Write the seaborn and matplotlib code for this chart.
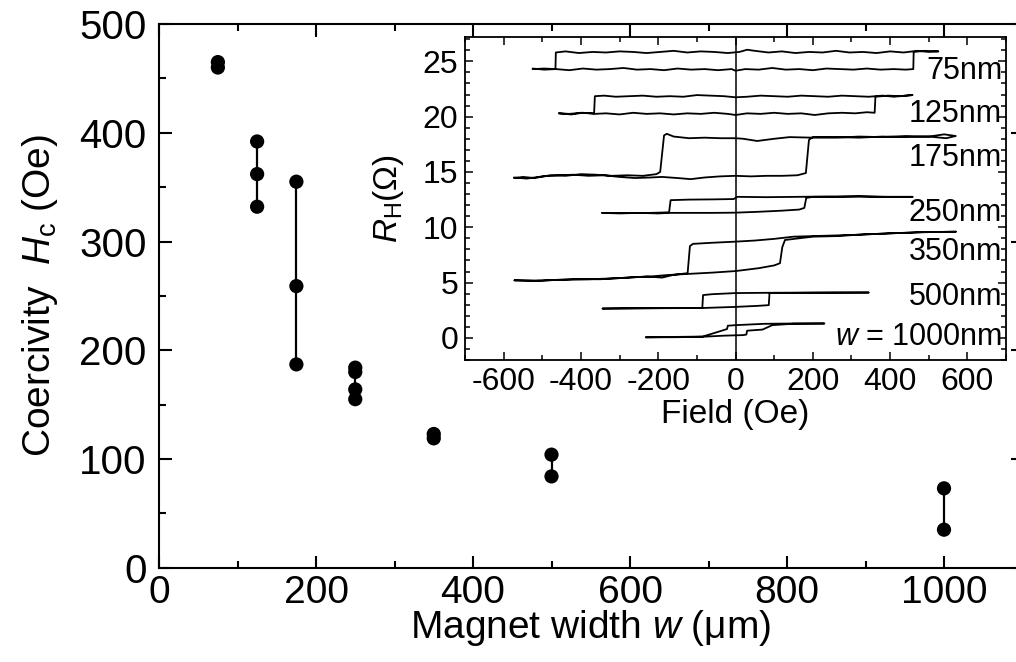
import matplotlib
matplotlib.use('Agg')
import matplotlib.pyplot as plt
import pandas as pd
import seaborn as sns
from matplotlib.ticker import MultipleLocator

# main panel: coercivity for each magnet width (several devices per width)
widths = [75, 75, 125, 125, 125, 175, 175, 175, 250, 250, 250, 250, 350, 350, 500, 500, 1000, 1000]
coercivity = [465, 460, 392, 362, 332, 355, 259, 187, 184, 180, 164, 155, 123, 119, 104, 84, 73, 35]

# inset: Hall resistance loops, (field in Oe, R_H in ohm), swept up then back down
loop_75 = [(-525, 24.35), (-495, 24.25), (-465, 24.30), (-430, 24.20), (-395, 24.35), (-360, 24.25),
           (-325, 24.30), (-290, 24.40), (-255, 24.25), (-220, 24.30), (-185, 24.20), (-150, 24.35),
           (-115, 24.25), (-80, 24.30), (-45, 24.20), (-10, 24.30), (0, 24.15), (25, 24.30), (60, 24.25),
           (95, 24.40), (130, 24.25), (165, 24.30), (200, 24.20), (235, 24.35), (270, 24.30), (305, 24.25),
           (340, 24.35), (375, 24.25), (410, 24.30), (440, 24.25), (460, 24.30), (461, 25.85), (490, 25.95),
           (525, 25.90), (500, 25.85), (470, 25.95), (435, 25.80), (400, 25.90), (365, 25.75), (330, 25.85),
           (295, 25.80), (260, 25.95), (225, 25.80), (190, 25.85), (155, 25.75), (120, 25.90), (85, 25.80),
           (50, 25.95), (30, 26.05), (10, 25.85), (-20, 25.75), (-55, 25.85), (-90, 25.90), (-125, 25.80),
           (-160, 25.95), (-195, 25.85), (-230, 25.75), (-265, 25.85), (-300, 25.90), (-335, 25.80),
           (-370, 25.85), (-405, 25.75), (-440, 25.90), (-465, 25.80), (-466, 24.30), (-495, 24.35),
           (-525, 24.30)]
loop_125 = [(-457, 20.30), (-425, 20.20), (-395, 20.35), (-365, 20.25), (-335, 20.30), (-300, 20.20),
            (-265, 20.35), (-230, 20.25), (-195, 20.30), (-160, 20.20), (-125, 20.30), (-90, 20.25),
            (-55, 20.35), (-20, 20.25), (0, 20.15), (30, 20.30), (65, 20.25), (100, 20.35), (135, 20.25),
            (170, 20.30), (205, 20.15), (240, 20.30), (275, 20.35), (310, 20.30), (340, 20.40), (360, 20.35),
            (362, 21.80), (395, 21.90), (425, 21.85), (458, 21.95), (440, 21.90), (410, 21.80), (380, 21.90),
            (345, 21.80), (310, 21.85), (275, 21.90), (240, 21.80), (205, 21.85), (170, 21.90), (135, 21.80),
            (100, 21.85), (65, 21.90), (30, 21.80), (0, 21.75), (-30, 21.85), (-65, 21.90), (-100, 21.95),
            (-135, 21.80), (-170, 21.85), (-205, 21.80), (-240, 21.90), (-275, 21.85), (-310, 21.80),
            (-340, 21.90), (-364, 21.85), (-366, 20.30), (-400, 20.35), (-430, 20.25), (-457, 20.30)]
loop_175 = [(-573, 14.50), (-540, 14.40), (-500, 14.60), (-460, 14.70), (-420, 14.75), (-380, 14.65),
            (-340, 14.70), (-300, 14.55), (-260, 14.45), (-220, 14.50), (-190, 14.55), (-150, 14.45),
            (-116, 14.35), (-80, 14.50), (-40, 14.60), (0, 14.65), (40, 14.60), (80, 14.65), (120, 14.65),
            (160, 14.70), (182, 14.90), (190, 17.90), (200, 18.15), (260, 18.10), (320, 18.20), (380, 18.15),
            (440, 18.25), (500, 18.20), (540, 18.40), (570, 18.25), (545, 18.05), (500, 18.20), (440, 18.15),
            (380, 18.20), (320, 18.10), (260, 18.15), (200, 18.10), (140, 18.15), (100, 18.00), (56, 17.80),
            (20, 18.00), (0, 18.05), (-40, 18.05), (-80, 18.10), (-120, 18.05), (-160, 18.20), (-178, 18.45),
            (-185, 18.30), (-195, 15.00), (-205, 14.80), (-240, 14.65), (-280, 14.70), (-320, 14.65),
            (-360, 14.75), (-400, 14.80), (-440, 14.65), (-480, 14.70), (-520, 14.45), (-550, 14.55),
            (-573, 14.45)]
loop_250 = [(-345, 11.30), (-300, 11.25), (-250, 11.30), (-200, 11.25), (-172, 11.30), (-120, 11.30),
            (-60, 11.30), (0, 11.32), (60, 11.40), (120, 11.50), (165, 11.60), (178, 11.75), (183, 12.65),
            (200, 12.75), (260, 12.75), (320, 12.80), (380, 12.75), (458, 12.75), (400, 12.75), (320, 12.78),
            (240, 12.78), (160, 12.75), (80, 12.72), (5, 12.75), (-5, 12.55), (-60, 12.52), (-120, 12.50),
            (-168, 12.45), (-172, 11.35), (-220, 11.30), (-280, 11.28), (-345, 11.30)]
loop_350 = [(-572, 5.20), (-500, 5.18), (-420, 5.30), (-350, 5.30), (-280, 5.45), (-220, 5.55), (-176, 5.68),
            (-124, 5.78), (-60, 5.90), (0, 6.04), (60, 6.30), (100, 6.55), (115, 6.75), (121, 8.20),
            (128, 8.85), (200, 9.15), (260, 9.20), (330, 9.35), (400, 9.45), (480, 9.55), (570, 9.60),
            (480, 9.55), (400, 9.45), (300, 9.30), (200, 9.20), (150, 9.15), (100, 8.95), (50, 8.80),
            (0, 8.70), (-60, 8.60), (-110, 8.50), (-118, 8.30), (-124, 5.85), (-160, 5.70), (-190, 5.45),
            (-230, 5.55), (-300, 5.40), (-380, 5.30), (-460, 5.25), (-520, 5.15), (-572, 5.20)]
loop_500 = [(-344, 2.65), (-250, 2.68), (-150, 2.70), (-86, 2.70), (0, 2.80), (60, 2.90), (86, 2.96),
            (88, 4.05), (200, 4.08), (345, 4.10), (250, 4.10), (100, 4.08), (0, 4.05), (-60, 3.95),
            (-84, 3.87), (-86, 2.70), (-200, 2.68), (-344, 2.65)]
loop_1000 = [(-232, 0.05), (-150, 0.06), (-85, 0.10), (-30, 0.20), (20, 0.25), (28, 0.30), (30, 0.65),
             (70, 0.75), (95, 1.15), (150, 1.28), (230, 1.30), (150, 1.30), (74, 1.27), (0, 1.15),
             (-20, 1.10), (-22, 0.80), (-40, 0.60), (-85, 0.12), (-232, 0.05)]

loops = [loop_75, loop_125, loop_175, loop_250, loop_350, loop_500, loop_1000]
loop_labels = ['75nm', '125nm', '175nm', '250nm', '350nm', '500nm', r'$\mathit{w}$ = 1000nm']
label_y = [24.1, 20.2, 16.25, 11.3, 7.8, 3.7, 0.1]

sns.set_style('ticks')
plt.rcParams['font.family'] = ['Liberation Sans', 'DejaVu Sans']
plt.rcParams['mathtext.fontset'] = 'custom'
plt.rcParams['mathtext.rm'] = 'Liberation Sans'
plt.rcParams['mathtext.it'] = 'Liberation Sans:italic'
plt.rcParams['axes.unicode_minus'] = False
for key in ['text.color', 'axes.labelcolor', 'xtick.color', 'ytick.color', 'axes.edgecolor']:
    plt.rcParams[key] = 'black'

fig = plt.figure(figsize=(10.16, 6.62), dpi=100)
ax = fig.add_axes([0.1565, 0.1424, 0.8499, 0.8213])

# vertical bars joining the devices of one width, then the dots
sns.lineplot(x=widths, y=coercivity, units=widths, estimator=None, sort=False,
             color='black', linewidth=1.6, ax=ax)
sns.scatterplot(x=widths, y=coercivity, color='black', s=105, edgecolor='none', zorder=3, ax=ax)

ax.set_xlim(0, 1100)
ax.set_ylim(0, 500)
ax.xaxis.set_major_locator(MultipleLocator(200))
ax.xaxis.set_minor_locator(MultipleLocator(100))
ax.yaxis.set_major_locator(MultipleLocator(100))
ax.yaxis.set_minor_locator(MultipleLocator(50))
ax.tick_params(which='both', direction='in', top=True, right=True, width=1.5, labelsize=28)
ax.tick_params(axis='y', labelsize=29)
ax.tick_params(which='major', length=9)
ax.tick_params(which='minor', length=5)
ax.tick_params(axis='x', pad=5)
ax.tick_params(axis='y', pad=9)
for s in ax.spines.values():
    s.set_linewidth(1.5)
ax.set_xlabel(r'Magnet width $\mathit{w}$ (μm)', fontsize=28)
ax.set_ylabel(r'Coercivity  $\mathit{H}_{\mathrm{c}}$ (Oe)', fontsize=28)
ax.xaxis.set_label_coords(0.5, -0.074)
ax.yaxis.set_label_coords(-0.115, 0.5)

# inset with the Hall loops
axin = fig.add_axes([0.4577, 0.4562, 0.5325, 0.4879])
rows = []
for name, loop in zip(loop_labels, loops):
    for i, (field, r) in enumerate(loop):
        rows.append({'loop': name, 'step': i, 'field': field, 'R': r})
df = pd.DataFrame(rows)
sns.lineplot(data=df, x='field', y='R', units='loop', estimator=None, sort=False,
             color='black', linewidth=1.3, ax=axin)
axin.axvline(0, color='black', linewidth=1.1)
for name, y in zip(loop_labels, label_y):
    axin.text(690, y, name, fontsize=22, ha='right', va='center')

axin.set_xlim(-700, 700)
axin.set_ylim(-2, 27.2)
axin.xaxis.set_major_locator(MultipleLocator(200))
axin.xaxis.set_minor_locator(MultipleLocator(100))
axin.yaxis.set_major_locator(MultipleLocator(5))
axin.yaxis.set_minor_locator(MultipleLocator(1))
axin.tick_params(which='both', direction='in', top=True, right=True, width=1.1, labelsize=23)
axin.tick_params(which='major', length=6)
axin.tick_params(which='minor', length=3.5)
axin.tick_params(axis='both', pad=5)
for s in axin.spines.values():
    s.set_linewidth(1.3)
axin.set_xlabel('Field (Oe)', fontsize=24)
axin.set_ylabel(r'$\mathit{R}_{\mathrm{H}}$(Ω)', fontsize=24)
axin.xaxis.set_label_coords(0.5, -0.12)
axin.yaxis.set_label_coords(-0.11, 0.5)

fig.savefig('out.png', dpi=100)
